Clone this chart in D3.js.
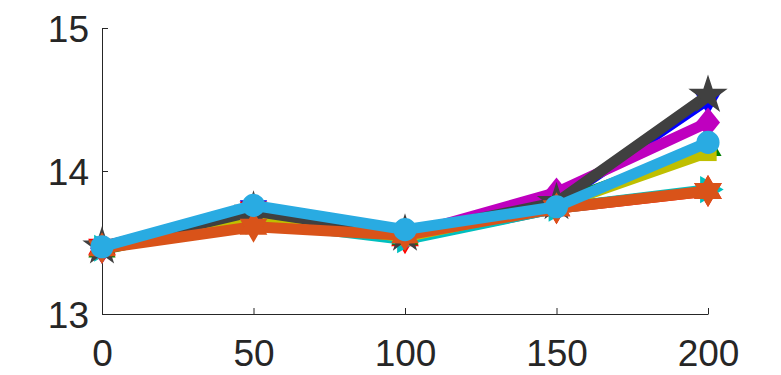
<!DOCTYPE html>
<html><head><meta charset="utf-8">
<script src="https://cdn.jsdelivr.net/npm/d3@7"></script>
<style>body{margin:0;background:#fff}svg{display:block}</style>
</head><body>
<script>
const xValues = [0, 50, 100, 150, 200];
const xTicks = [0, 50, 100, 150, 200];
const yTicks = [13, 14, 15];
const seriesNames = ["blue","red","green","cyan","magenta","yellow","darkgray","orange","lightblue"];
const seriesColors = ["#0000ff","#ff0000","#008000","#00bfbf","#bf00bf","#bfbf00","#404040","#d95319","#29abe2"];
const seriesMarkers = ["triangleDown","hexagram","triangleUp","triangleRight","diamond","square","star","hexagram","circle"];
const sBlue      = [13.46, 13.74, 13.54, 13.78, 14.50];
const sRed       = [13.47, 13.73, 13.53, 13.74, 13.86];
const sGreen     = [13.45, 13.68, 13.54, 13.77, 14.16];
const sCyan      = [13.46, 13.65, 13.52, 13.74, 13.87];
const sMagenta   = [13.46, 13.69, 13.55, 13.85, 14.34];
const sYellow    = [13.46, 13.67, 13.54, 13.76, 14.13];
const sDarkGray  = [13.47, 13.72, 13.56, 13.78, 14.53];
const sOrange    = [13.46, 13.61, 13.55, 13.74, 13.86];
const sLightBlue = [13.47, 13.76, 13.59, 13.75, 14.20];
const seriesValues = [sBlue,sRed,sGreen,sCyan,sMagenta,sYellow,sDarkGray,sOrange,sLightBlue];

const W = 781, H = 375;
const svg = d3.select("body").append("svg").attr("width", W).attr("height", H);
const x = d3.scaleLinear().domain([0, 200]).range([102, 708]);
const y = d3.scaleLinear().domain([13, 15]).range([314, 28]);
const axisColor = "#262626";

// axes
const gx = svg.append("g").attr("transform", `translate(0,${y(13)})`)
  .call(d3.axisBottom(x).tickValues(xTicks).tickFormat(d3.format("d")).tickSize(-6).tickPadding(26).tickSizeOuter(0));
const gy = svg.append("g").attr("transform", `translate(${x(0)},0)`)
  .call(d3.axisLeft(y).tickValues(yTicks).tickFormat(d3.format("d")).tickSize(-6).tickPadding(13).tickSizeOuter(0));
[gx, gy].forEach(g => {
  g.select(".domain").attr("stroke", axisColor).attr("stroke-width", 1);
  g.selectAll(".tick line").attr("stroke", axisColor).attr("stroke-width", 1);
  g.selectAll(".tick text").attr("fill", axisColor)
    .style("font-family", "'Liberation Sans', Arial, sans-serif").style("font-size", "37px");
});
gx.selectAll(".tick text").attr("dy", "0.71em");
gy.selectAll(".tick text").attr("dy", "0.36em").attr("x", -13);

function hexagramPath(r) {
  const pts = [];
  for (let i = 0; i < 12; i++) {
    const a = -Math.PI / 2 + i * Math.PI / 6;
    const rr = i % 2 === 0 ? r : r * 0.58;
    pts.push([rr * Math.cos(a), rr * Math.sin(a)]);
  }
  return "M" + pts.map(p => p.join(",")).join("L") + "Z";
}
function markerPath(kind) {
  switch (kind) {
    case "hexagram": return {d: hexagramPath(16), rot: 0};
    case "star": return {d: d3.symbol(d3.symbolStar, 480)(), rot: 0};
    case "circle": return {d: d3.symbol(d3.symbolCircle, 420)(), rot: 0};
    case "diamond": return {d: "M0,-15L12,0L0,15L-12,0Z", rot: 0};
    case "square": return {d: d3.symbol(d3.symbolSquare, 300)(), rot: 0};
    case "triangleUp": return {d: d3.symbol(d3.symbolTriangle, 320)(), rot: 0};
    case "triangleDown": return {d: d3.symbol(d3.symbolTriangle, 320)(), rot: 180};
    case "triangleRight": return {d: d3.symbol(d3.symbolTriangle, 320)(), rot: 90};
  }
}

const line = d3.line().x((d, i) => x(xValues[i])).y(d => y(d));
seriesValues.forEach((vals, si) => {
  const g = svg.append("g").attr("class", "series-" + seriesNames[si]);
  g.append("path").attr("d", line(vals)).attr("fill", "none")
    .attr("stroke", seriesColors[si]).attr("stroke-width", 11).attr("stroke-linejoin", "round");
  const m = markerPath(seriesMarkers[si]);
  g.selectAll("path.mk").data(vals).enter().append("path").attr("class", "mk")
    .attr("d", m.d)
    .attr("transform", (d, i) => `translate(${x(xValues[i])},${y(d)}) rotate(${m.rot})`)
    .attr("fill", seriesColors[si]);
});
</script>
</body></html>
